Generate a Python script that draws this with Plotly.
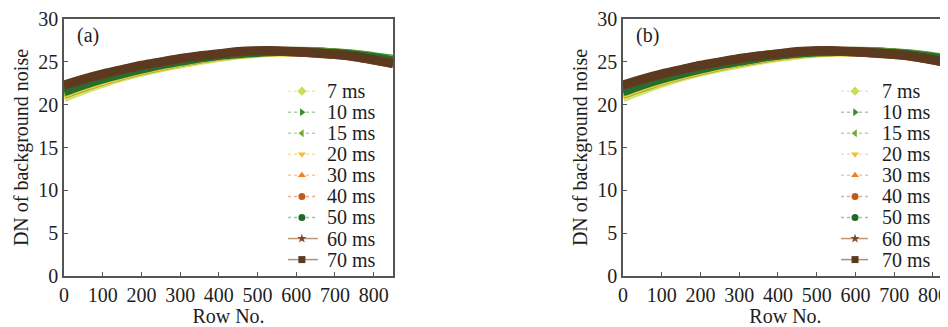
import plotly.graph_objects as go

rows = [0, 50, 100, 150, 200, 250, 300, 350, 400, 450, 500, 550, 600, 650, 700, 750, 800, 850]
labels = ["7 ms", "10 ms", "15 ms", "20 ms", "30 ms", "40 ms", "50 ms", "60 ms", "70 ms"]

# panel (a) values
a_7 = [20.8, 21.7, 22.5, 23.2, 23.8, 24.3, 24.75, 25.15, 25.5, 25.8, 26.0, 26.15, 26.2, 26.15, 26.05, 25.85, 25.55, 25.2]
a_10 = [21.3, 22.1, 22.85, 23.5, 24.05, 24.55, 24.95, 25.35, 25.7, 25.95, 26.1, 26.2, 26.25, 26.2, 26.05, 25.9, 25.6, 25.3]
a_15 = [21.2, 22.0, 22.75, 23.4, 23.95, 24.45, 24.9, 25.3, 25.65, 25.9, 26.05, 26.2, 26.2, 26.15, 26.0, 25.85, 25.55, 25.2]
a_20 = [21.3, 22.1, 22.8, 23.45, 24.0, 24.5, 24.95, 25.35, 25.65, 25.9, 26.05, 26.15, 26.15, 26.1, 25.95, 25.75, 25.45, 25.0]
a_30 = [21.8, 22.55, 23.2, 23.8, 24.3, 24.75, 25.15, 25.5, 25.8, 26.0, 26.2, 26.25, 26.15, 26.05, 25.9, 25.65, 25.3, 24.9]
a_40 = [22.0, 22.7, 23.35, 23.9, 24.4, 24.85, 25.25, 25.6, 25.85, 26.1, 26.25, 26.25, 26.15, 26.05, 25.85, 25.6, 25.2, 24.8]
a_50 = [21.5, 22.3, 23.0, 23.6, 24.15, 24.65, 25.05, 25.45, 25.75, 25.95, 26.1, 26.2, 26.2, 26.1, 26.0, 25.8, 25.5, 25.1]
a_60 = [22.2, 22.9, 23.5, 24.05, 24.55, 24.95, 25.35, 25.65, 25.9, 26.15, 26.25, 26.25, 26.15, 26.0, 25.85, 25.6, 25.2, 24.8]
a_70 = [22.3, 23.0, 23.6, 24.1, 24.6, 25.0, 25.4, 25.7, 25.95, 26.2, 26.3, 26.3, 26.2, 26.05, 25.9, 25.65, 25.25, 24.8]

# panel (b) values
b_7 = [20.8, 21.7, 22.5, 23.2, 23.8, 24.3, 24.75, 25.15, 25.5, 25.8, 26.0, 26.15, 26.2, 26.15, 26.05, 25.85, 25.55, 25.2]
b_10 = [21.3, 22.1, 22.85, 23.5, 24.05, 24.55, 24.95, 25.35, 25.7, 25.95, 26.15, 26.2, 26.25, 26.2, 26.05, 25.9, 25.6, 25.3]
b_15 = [21.2, 22.0, 22.75, 23.4, 23.95, 24.45, 24.9, 25.3, 25.65, 25.9, 26.1, 26.2, 26.2, 26.15, 26.0, 25.85, 25.55, 25.2]
b_20 = [21.3, 22.1, 22.8, 23.45, 24.0, 24.5, 24.95, 25.35, 25.65, 25.9, 26.1, 26.15, 26.15, 26.1, 25.95, 25.75, 25.45, 25.0]
b_30 = [21.8, 22.55, 23.2, 23.8, 24.3, 24.75, 25.15, 25.5, 25.8, 26.0, 26.2, 26.25, 26.15, 26.05, 25.9, 25.65, 25.3, 24.9]
b_40 = [22.0, 22.7, 23.35, 23.9, 24.4, 24.85, 25.25, 25.6, 25.85, 26.1, 26.25, 26.25, 26.15, 26.05, 25.85, 25.6, 25.2, 24.8]
b_50 = [21.5, 22.3, 23.0, 23.6, 24.15, 24.65, 25.05, 25.45, 25.75, 26.0, 26.15, 26.2, 26.2, 26.1, 26.0, 25.8, 25.5, 25.1]
b_60 = [22.2, 22.9, 23.5, 24.05, 24.55, 24.95, 25.35, 25.65, 25.9, 26.15, 26.3, 26.25, 26.15, 26.0, 25.85, 25.6, 25.2, 24.8]
b_70 = [22.3, 23.0, 23.6, 24.1, 24.6, 25.0, 25.4, 25.7, 25.95, 26.2, 26.3, 26.3, 26.2, 26.05, 25.9, 25.65, 25.25, 24.8]

series_a = [a_7, a_10, a_15, a_20, a_30, a_40, a_50, a_60, a_70]
series_b = [b_7, b_10, b_15, b_20, b_30, b_40, b_50, b_60, b_70]

band_colors = ["#d6e46a", "#3f8f2c", "#78a83c", "#f2c53a", "#f08a2a", "#c2601e", "#22702c", "#6e4426", "#5c3a20"]
marker_colors = ["#c9dc5c", "#3a8a2a", "#74a83a", "#f2c030", "#f08020", "#c05a1a", "#1e6a28", "#7a4a2a", "#5a3a1e"]
line_colors = ["#e6eeb0", "#a8cca0", "#b8d4a0", "#f6e0a0", "#f8c8a0", "#e6b090", "#a0c4a4", "#b89878", "#b09070"]
symbols = ["diamond", "triangle-right", "triangle-left", "triangle-down", "triangle-up", "circle", "circle", "star", "square"]
dashes = ["dot", "dot", "dot", "dot", "dot", "dot", "dot", "solid", "solid"]

FONT = "Liberation Serif"
TXT = "#1e1e1e"
FS = 20
fig = go.Figure()

# layout of the hand-built legends (fractions of each panel)
LEG_TOP = (276 - 89) / 260.0
LEG_STEP = 21.3 / 260.0
legend_geo = {
    "a": dict(x0=0.681, x1=0.772, xm=0.723, xt=0.793, xa="x3", ya="y3"),
    "b": dict(x0=0.671, x1=0.754, xm=0.714, xt=0.791, xa="x4", ya="y4"),
}

annotations = []
for key, series, xa, ya in [("a", series_a, "x", "y"), ("b", series_b, "x2", "y2")]:
    for i, vals in enumerate(series):
        fig.add_trace(go.Scatter(
            x=rows, y=vals, mode="lines", xaxis=xa, yaxis=ya,
            line=dict(color=band_colors[i], width=9, shape="spline"),
            showlegend=False, hoverinfo="skip"))
    g = legend_geo[key]
    for i, lab in enumerate(labels):
        yy = LEG_TOP - i * LEG_STEP
        fig.add_trace(go.Scatter(
            x=[g["x0"], g["x1"]], y=[yy, yy], mode="lines", xaxis=g["xa"], yaxis=g["ya"],
            line=dict(color=line_colors[i], width=1.5, dash=dashes[i]),
            showlegend=False, hoverinfo="skip"))
        fig.add_trace(go.Scatter(
            x=[g["xm"]], y=[yy], mode="markers", xaxis=g["xa"], yaxis=g["ya"],
            marker=dict(symbol=symbols[i], color=marker_colors[i], size=7, line=dict(width=0)),
            showlegend=False, hoverinfo="skip"))
        annotations.append(dict(text=lab, x=g["xt"], y=yy, xref=g["xa"], yref=g["ya"],
                                xanchor="left", yanchor="middle", showarrow=False,
                                font=dict(family=FONT, size=FS, color=TXT)))

axis_common = dict(showline=True, linecolor="#555555", linewidth=1.5, ticks="inside",
                   ticklen=4, tickcolor="#555555", showgrid=False, zeroline=False,
                   ticklabeloverflow="allow",
                   tickfont=dict(family=FONT, size=FS, color=TXT))
hidden = dict(visible=False, range=[0, 1], showgrid=False, zeroline=False, fixedrange=True)
ticks_x = [0, 100, 200, 300, 400, 500, 600, 700, 800]
ticks_y = [0, 5, 10, 15, 20, 25, 30]

annotations += [
    dict(text="(a)", x=0.012, y=0.99, xref="paper", yref="paper", xanchor="left", yanchor="top",
         showarrow=False, font=dict(family=FONT, size=FS, color=TXT)),
    dict(text="(b)", x=0.6443, y=0.99, xref="paper", yref="paper", xanchor="left", yanchor="top",
         showarrow=False, font=dict(family=FONT, size=FS, color=TXT)),
]

fig.update_layout(
    width=940, height=319,
    margin=dict(l=56, r=0, t=8, b=51),
    paper_bgcolor="white", plot_bgcolor="white",
    showlegend=False,
    xaxis=dict(domain=[0, 0.3722], range=[0, 850], tickvals=ticks_x, mirror=True, anchor="y",
               title=dict(text="Row No.", font=dict(family=FONT, size=FS, color=TXT), standoff=0),
               **axis_common),
    yaxis=dict(domain=[0, 1], range=[0, 30], tickvals=ticks_y, mirror=True, anchor="x",
               title=dict(text="DN of background noise", font=dict(family=FONT, size=FS, color=TXT), standoff=4),
               **axis_common),
    xaxis2=dict(domain=[0.6323, 1], range=[0, 839], tickvals=ticks_x, mirror=True, anchor="y2",
                title=dict(text="Row No.", font=dict(family=FONT, size=FS, color=TXT), standoff=0),
                **axis_common),
    yaxis2=dict(domain=[0, 1], range=[0, 30], tickvals=ticks_y, anchor="x2",
                title=dict(text="DN of background noise", font=dict(family=FONT, size=FS, color=TXT), standoff=4),
                **axis_common),
    xaxis3=dict(overlaying="x", anchor="y3", **hidden),
    yaxis3=dict(overlaying="y", anchor="x3", **hidden),
    xaxis4=dict(overlaying="x2", anchor="y4", **hidden),
    yaxis4=dict(overlaying="y2", anchor="x4", **hidden),
    annotations=annotations,
)

fig.write_html("out.html")
